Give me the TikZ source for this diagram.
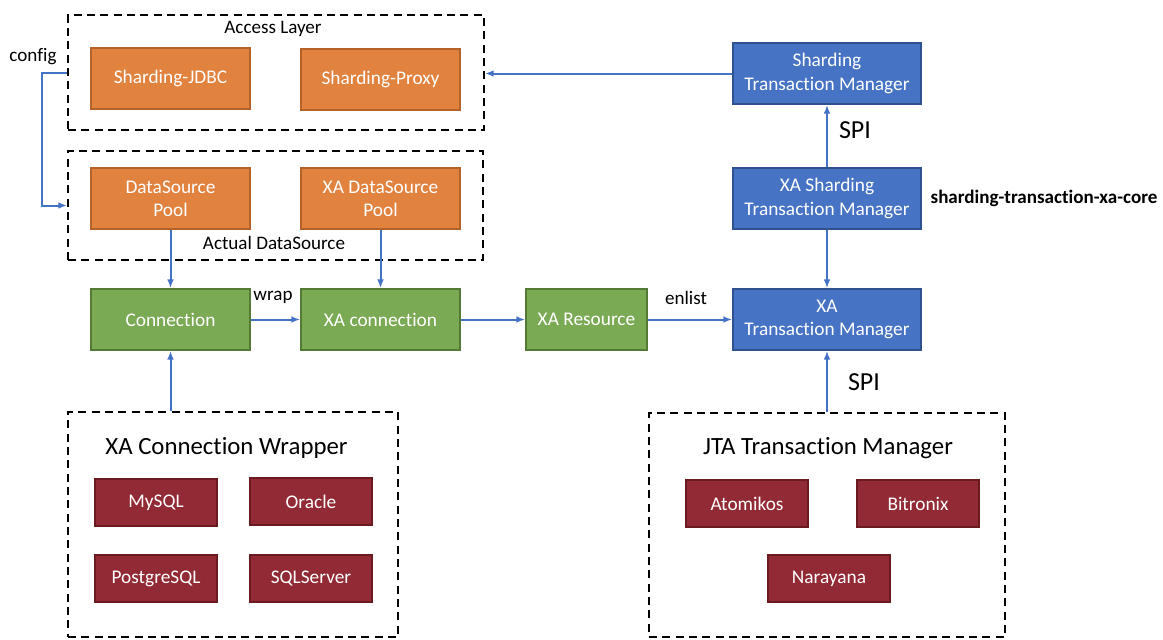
\documentclass[tikz,border=0pt]{standalone}
\usepackage{fontspec}
\setmainfont{Carlito}[Ligatures={NoCommon,NoRare},RawFeature={-liga;-dlig;-clig}]
\usetikzlibrary{arrows.meta,fit}
\definecolor{orfill}{HTML}{E1823F}
\definecolor{ordraw}{HTML}{B5612A}
\definecolor{grfill}{HTML}{7BAA55}
\definecolor{grdraw}{HTML}{557A35}
\definecolor{blfill}{HTML}{4673C4}
\definecolor{bldraw}{HTML}{2F528F}
\definecolor{rdfill}{HTML}{922A35}
\definecolor{rddraw}{HTML}{6B1A20}
\definecolor{arr}{HTML}{4472C4}
\begin{document}
\begin{tikzpicture}[x=0.75pt,y=-0.75pt,
  base/.style={draw, line width=1.3pt, text=white, align=center, font=\fontsize{14.5pt}{17.5pt}\selectfont, inner sep=0pt},
  obox/.style={base, fill=orfill, draw=ordraw, minimum width=119.25pt, minimum height=45.75pt},
  gbox/.style={base, fill=grfill, draw=grdraw, minimum height=45.75pt},
  bbox/.style={base, fill=blfill, draw=bldraw, minimum width=141pt, minimum height=45.75pt},
  rbox/.style={base, fill=rdfill, draw=rddraw, minimum width=91.5pt, minimum height=35.25pt},
  dbox/.style={draw, line width=1.5pt, dash pattern=on 6pt off 4pt, inner sep=0pt},
  lbl/.style={font=\fontsize{14.3pt}{17pt}\selectfont, inner sep=0pt},
  big/.style={font=\fontsize{18.6pt}{22pt}\selectfont, inner sep=0pt},
  spi/.style={font=\fontsize{19.5pt}{23pt}\selectfont, inner sep=0pt},
  conn/.style={draw=arr, line width=1.5pt, -{Latex[length=6.5pt,width=5pt]}}
]
\useasboundingbox (0,0) rectangle (1163,639);

% dashed containers
\node[dbox, fit={(68,15) (484,130)}] (access) {};
\node[dbox, fit={(68,151) (483,260)}] (actual) {};
\node[dbox, fit={(68,412) (398,637)}] (wrapper) {};
\node[dbox, fit={(649,413) (1005,637)}] (jta) {};

% container titles
\node[lbl] (accesst) at (273,29) {Access Layer};
\node[lbl] (actualt) at (274,243) {Actual DataSource};
\node[big] (wrappert) at (226.5,448) {XA Connection Wrapper};
\node[big] (jtat) at (828,448) {JTA Transaction Manager};

% orange
\node[obox] (jdbc) at (170.5,78.5) {Sharding-JDBC};
\node[obox] (proxy) at (380.5,79.5) {Sharding-Proxy};
\node[obox] (dsp) at (170.5,198.5) {DataSource\\Pool};
\node[obox] (xadsp) at (380.5,198.5) {XA DataSource\\Pool};

% green
\node[gbox, minimum width=119.25pt] (cn) at (170.5,319.5) {Connection};
\node[gbox, minimum width=119.25pt] (xacn) at (380.5,319.5) {XA connection};
\node[gbox, minimum width=90.75pt] (xares) at (586.5,319.5) {XA Resource};

% blue
\node[bbox] (stm) at (827,73.5) {Sharding\\Transaction Manager};
\node[bbox] (xastm) at (827,198.5) {XA Sharding\\Transaction Manager};
\node[bbox] (xatm) at (827,319.5) {XA\\Transaction Manager};

% red
\node[rbox] (mysql) at (156,502.5) {MySQL};
\node[rbox] (oracle) at (311,501.5) {Oracle};
\node[rbox] (pg) at (156,578.5) {PostgreSQL};
\node[rbox] (sqls) at (311,578.5) {SQLServer};
\node[rbox] (atom) at (747,503.5) {Atomikos};
\node[rbox] (bitr) at (918,503.5) {Bitronix};
\node[rbox] (nara) at (829,578.5) {Narayana};

% labels
\node[lbl] (config) at (33,57) {config};
\node[lbl] (wrap) at (273,297) {wrap};
\node[lbl] (enlist) at (686,298) {enlist};
\node[spi] (spi1) at (855,130) {SPI};
\node[spi] (spi2) at (864,382) {SPI};
\node[lbl, font=\fontsize{14.3pt}{17pt}\selectfont\bfseries] (core) at (1044,198) {sharding-transaction-xa-core};

% connectors
\draw[conn] (stm.west) -- (stm.west -| access.east);
\draw[conn] (access.west) -- ++(-25,0) |- (actual.west);
\draw[conn] (dsp.south) -- (cn.north);
\draw[conn] (xadsp.south) -- (xacn.north);
\draw[conn] (cn.east) -- (xacn.west);
\draw[conn] (xacn.east) -- (xares.west);
\draw[conn] (xares.east) -- (xatm.west);
\draw[conn] (cn.south |- wrapper.north) -- (cn.south);
\draw[conn] (xastm.north) -- (stm.south);
\draw[conn] (xastm.south) -- (xatm.north);
\draw[conn] (jta.north) -- (xatm.south);
\end{tikzpicture}
\end{document}
